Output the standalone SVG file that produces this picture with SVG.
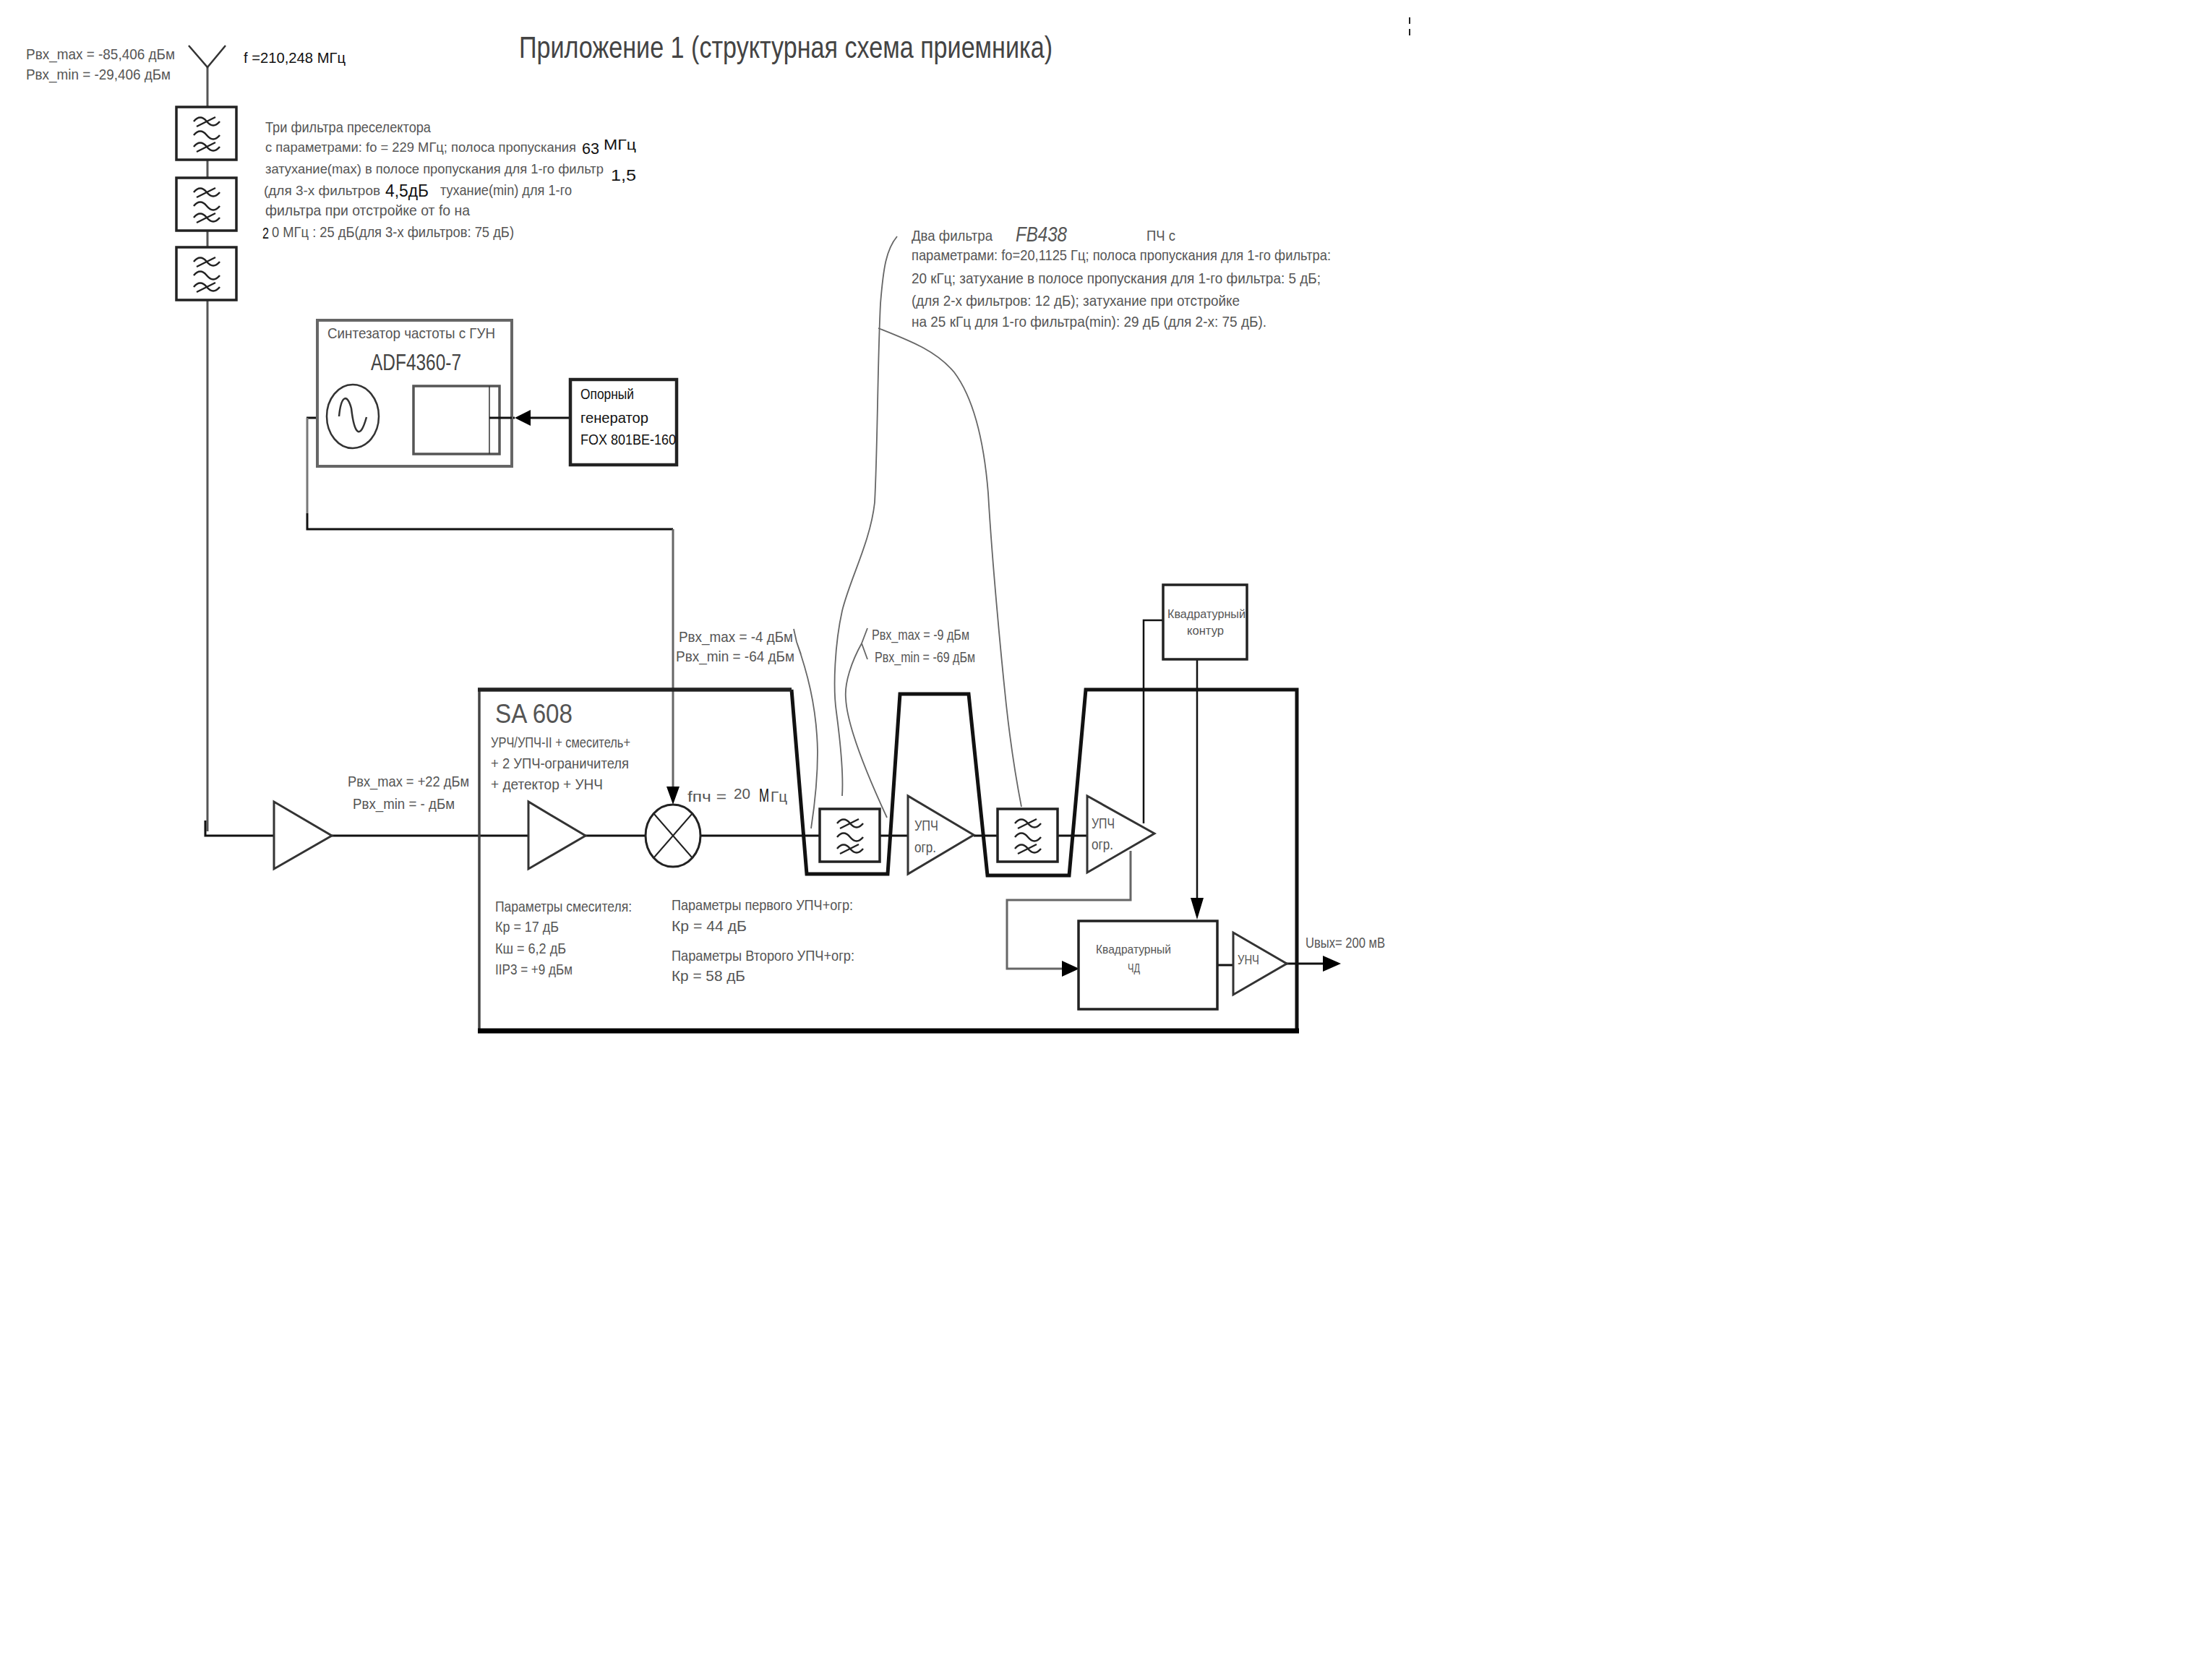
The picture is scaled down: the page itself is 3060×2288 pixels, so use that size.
<svg xmlns="http://www.w3.org/2000/svg" width="3060" height="2288" viewBox="0 0 3060 2288">
<style>
text{font-family:"Liberation Sans","DejaVu Sans",sans-serif;font-size:21px;fill:#555}
.d{fill:#111}
.n{font-size:18.5px}
.t{font-size:42px;fill:#444}
.b{font-size:32px;fill:#444}
.box{fill:#fff;stroke:#222;stroke-width:3.5}
.amp{fill:#fff;stroke:#333;stroke-width:3;stroke-linejoin:miter}
.w{fill:none;stroke:#222;stroke-width:2.5}
.l{fill:none;stroke:#111;stroke-width:3}
.g{fill:none;stroke:#666;stroke-width:1.8}
.ah{fill:#000;stroke:none}
</style>
<defs>
<g id="flt">
<rect class="box" x="0" y="0" width="83" height="73"/>
<path class="w" d="M24 20q9-11 18 0t18 0M28 27l26-13M24 39q9-11 18 0t18 0M24 55q9-11 18 0t18 0M28 62l26-13"/>
</g>
</defs>
<rect width="3060" height="2288" fill="#fff"/>
<rect x="1949" y="24" width="2" height="9" fill="#222"/>
<rect x="1949" y="40" width="2" height="9" fill="#222"/>
<g id="connectors">
<path class="l" style="stroke:#555" d="M287 93V1150"/>
<path class="l" d="M284 1135V1156H379"/>
<path class="l" d="M459 1156H731M810 1156H892M969 1156H1134M1217 1156H1256M1347 1156H1379M1463 1156H1504"/>
<path class="l" d="M424 578H452M525 578H572M677 578H712M734 578H787" />
<path class="l" style="stroke:#777" d="M425 578V710"/>
<path class="l" d="M425 710V732H931"/>
<path class="l" style="stroke:#666" d="M931 732V1090"/>
<path class="l" style="stroke-width:2.5" d="M1582 1139V858H1609M1656 912V1245"/>
<path class="l" style="stroke:#666" d="M1564 1177V1245H1393V1340H1470"/>
<path class="l" d="M1684 1335H1706M1780 1333H1832"/>
<path class="ah" d="M712 578L734 567V589ZM931 1113L922 1088H940ZM1656 1272L1647 1242H1665ZM1493 1340L1469 1329V1351ZM1855 1333L1830 1322V1344Z"/>
<path class="g" d="M1241 327C1226 345 1222 370 1218 420C1214 500 1214 620 1210 695C1204 750 1176 800 1165 845C1155 890 1152 950 1157 985C1163 1030 1167 1070 1165 1101"/>
<path class="g" d="M1215 454C1260 472 1295 485 1320 515C1350 555 1362 620 1367 682C1372 770 1384 900 1392 975C1398 1030 1406 1080 1413 1116"/>
<path class="g" d="M1200 869L1192 890L1200 912M1192 890C1178 915 1168 945 1170 966C1172 1010 1208 1090 1227 1131"/>
<path class="g" d="M1098 870L1102 888C1115 925 1130 975 1131 1040C1131 1080 1126 1120 1122 1146M1108 905L1102 888"/>
</g>
<g id="title"><text class="t" x="718" y="80" textLength="738" lengthAdjust="spacingAndGlyphs">Приложение 1 (структурная схема приемника)</text></g>
<g id="antenna">
<path class="l" style="stroke:#333;stroke-width:2.5" d="M261 63L287 93L312 63"/>
<text x="36" y="82" textLength="206" lengthAdjust="spacingAndGlyphs">Рвх_max = -85,406 дБм</text>
<text x="36" y="110" textLength="200" lengthAdjust="spacingAndGlyphs">Рвх_min = -29,406 дБм</text>
<text class="d" x="337" y="87" textLength="141" lengthAdjust="spacingAndGlyphs">f =210,248 МГц</text>
</g>
<g id="filter-a"><use href="#flt" x="244" y="148"/></g>
<g id="filter-b"><use href="#flt" x="244" y="246"/></g>
<g id="filter-c"><use href="#flt" x="244" y="342"/></g>
<g id="preselector-note">
<text x="367" y="183" textLength="229" lengthAdjust="spacingAndGlyphs">Три фильтра преселектора</text>
<text class="n" x="367" y="210" textLength="430" lengthAdjust="spacingAndGlyphs">с параметрами: fo = 229 МГц; полоса пропускания</text>
<text class="d" style="font-size:22px" x="805" y="213" textLength="24" lengthAdjust="spacingAndGlyphs">63</text>
<text class="d" style="font-size:21px" x="835" y="207" textLength="45" lengthAdjust="spacingAndGlyphs">МГц</text>
<text class="n" x="367" y="240" textLength="468" lengthAdjust="spacingAndGlyphs">затухание(max) в полосе пропускания для 1-го фильтр</text>
<text class="d" style="font-size:22px" x="845" y="250" textLength="35" lengthAdjust="spacingAndGlyphs">1,5</text>
<text class="n" x="365" y="270" textLength="161" lengthAdjust="spacingAndGlyphs">(для 3-х фильтров</text>
<text class="d" style="font-size:24px" x="533" y="272" textLength="60" lengthAdjust="spacingAndGlyphs">4,5дБ</text>
<text x="609" y="270" textLength="182" lengthAdjust="spacingAndGlyphs">тухание(min) для 1-го</text>
<text x="367" y="298" textLength="283" lengthAdjust="spacingAndGlyphs">фильтра при отстройке от fo на</text>
<text class="d" style="font-size:22px" x="363" y="330" textLength="9" lengthAdjust="spacingAndGlyphs">2</text>
<text x="376" y="328" textLength="335" lengthAdjust="spacingAndGlyphs">0 МГц : 25 дБ(для 3-х фильтров: 75 дБ)</text>
</g>
<g id="synth">
<rect class="box" style="stroke:#666;stroke-width:4" x="439" y="443" width="269" height="202"/>
<text x="453" y="468" textLength="232" lengthAdjust="spacingAndGlyphs">Синтезатор частоты с ГУН</text>
<text class="b" x="513" y="512" textLength="125" lengthAdjust="spacingAndGlyphs">ADF4360-7</text>
<ellipse cx="488" cy="576" rx="36" ry="44" fill="#fff" stroke="#333" stroke-width="2.5"/>
<path fill="none" stroke="#333" stroke-width="2.5" d="M469 576C472 545 481 545 486 565C490 600 498 610 507 577"/>
<rect class="box" style="stroke:#555;stroke-width:3.5" x="572" y="534" width="119" height="94"/>
<path fill="none" stroke="#333" stroke-width="1.5" d="M677 534V628"/>
<path class="l" d="M677 578H708"/>
</g>
<g id="reference">
<rect class="box" style="stroke-width:4.5" x="789" y="525" width="147" height="118"/>
<text class="d" x="803" y="552" textLength="74" lengthAdjust="spacingAndGlyphs">Опорный</text>
<text class="d" x="803" y="585" textLength="94" lengthAdjust="spacingAndGlyphs">генератор</text>
<text class="d" x="803" y="615" textLength="132" lengthAdjust="spacingAndGlyphs">FOX 801BE-160</text>
</g>
<g id="sa608">
<path fill="none" stroke="#111" stroke-width="5" d="M1095 954L1116 1209H1228L1245 960H1340L1366 1211H1479L1502 954H1794V1426"/>
<path fill="none" stroke="#444" stroke-width="3.5" d="M663 1426V954"/>
<path fill="none" stroke="#222" stroke-width="5.5" d="M661 954H1095"/>
<path fill="none" stroke="#000" stroke-width="7" d="M661 1426H1797"/>
<text style="font-size:36px" x="685" y="1000" textLength="107" lengthAdjust="spacingAndGlyphs">SA 608</text>
<text x="679" y="1034" textLength="193" lengthAdjust="spacingAndGlyphs">УРЧ/УПЧ-II + смеситель+</text>
<text x="679" y="1063" textLength="191" lengthAdjust="spacingAndGlyphs">+ 2 УПЧ-ограничителя</text>
<text x="679" y="1092" textLength="155" lengthAdjust="spacingAndGlyphs">+ детектор + УНЧ</text>
<text x="951" y="1109" textLength="54" lengthAdjust="spacingAndGlyphs">fпч =</text>
<text x="1015" y="1105" textLength="23" lengthAdjust="spacingAndGlyphs">20</text>
<text class="d" style="font-size:26px" x="1050" y="1109" textLength="14" lengthAdjust="spacingAndGlyphs">М</text>
<text x="1066" y="1109" textLength="23" lengthAdjust="spacingAndGlyphs">Гц</text>
<text x="685" y="1261" textLength="189" lengthAdjust="spacingAndGlyphs">Параметры смесителя:</text>
<text x="685" y="1289" textLength="88" lengthAdjust="spacingAndGlyphs">Кр = 17 дБ</text>
<text x="685" y="1319" textLength="98" lengthAdjust="spacingAndGlyphs">Кш = 6,2 дБ</text>
<text x="685" y="1348" textLength="107" lengthAdjust="spacingAndGlyphs">IIP3 = +9 дБм</text>
<text x="929" y="1259" textLength="251" lengthAdjust="spacingAndGlyphs">Параметры первого УПЧ+огр:</text>
<text x="929" y="1288" textLength="104" lengthAdjust="spacingAndGlyphs">Кр =  44 дБ</text>
<text x="929" y="1329" textLength="253" lengthAdjust="spacingAndGlyphs">Параметры Второго УПЧ+огр:</text>
<text x="929" y="1357" textLength="102" lengthAdjust="spacingAndGlyphs">Кр =  58 дБ</text>
</g>
<g id="amp-input"><path class="amp" d="M379 1109V1202L459 1156Z"/></g>
<g id="amp-sa"><path class="amp" d="M731 1109V1202L810 1156Z"/></g>
<g id="mixer">
<ellipse cx="931" cy="1156" rx="38" ry="43" fill="#fff" stroke="#222" stroke-width="3"/>
<path fill="none" stroke="#222" stroke-width="2" d="M904 1125L958 1187M958 1125L904 1187"/>
</g>
<g id="filter-d"><use href="#flt" x="1134" y="1119"/></g>
<g id="filter-e"><use href="#flt" x="1380" y="1119"/></g>
<g id="amp-if1">
<path class="amp" d="M1256 1101V1209L1347 1155Z"/>
<text x="1265" y="1149" textLength="33" lengthAdjust="spacingAndGlyphs">УПЧ</text>
<text x="1265" y="1179" textLength="30" lengthAdjust="spacingAndGlyphs">огр.</text>
</g>
<g id="amp-if2">
<path class="amp" d="M1504 1101V1207L1597 1153Z"/>
<text x="1510" y="1146" textLength="32" lengthAdjust="spacingAndGlyphs">УПЧ</text>
<text x="1510" y="1175" textLength="30" lengthAdjust="spacingAndGlyphs">огр.</text>
</g>
<g id="quad-contour">
<rect class="box" x="1609" y="809" width="116" height="103"/>
<text x="1615" y="855" style="font-size:17px" textLength="108" lengthAdjust="spacingAndGlyphs">Квадратурный</text>
<text x="1642" y="878" style="font-size:17px" textLength="51" lengthAdjust="spacingAndGlyphs">контур</text>
</g>
<g id="quad-detector">
<rect class="box" x="1492" y="1274" width="192" height="122"/>
<text x="1516" y="1319" style="font-size:17px" textLength="104" lengthAdjust="spacingAndGlyphs">Квадратурный</text>
<text x="1560" y="1345" style="font-size:17px" textLength="17" lengthAdjust="spacingAndGlyphs">ЧД</text>
</g>
<g id="amp-audio">
<path class="amp" d="M1706 1290V1376L1780 1333Z"/>
<text x="1712" y="1334" style="font-size:18px" textLength="30" lengthAdjust="spacingAndGlyphs">УНЧ</text>
</g>
<g id="labels">
<text x="481" y="1088" textLength="168" lengthAdjust="spacingAndGlyphs">Рвх_max = +22 дБм</text>
<text x="488" y="1119" textLength="141" lengthAdjust="spacingAndGlyphs">Рвх_min = - дБм</text>
<text x="939" y="888" textLength="158" lengthAdjust="spacingAndGlyphs">Рвх_max = -4 дБм</text>
<text x="935" y="915" textLength="164" lengthAdjust="spacingAndGlyphs">Рвх_min = -64 дБм</text>
<text x="1206" y="885" textLength="135" lengthAdjust="spacingAndGlyphs">Рвх_max = -9 дБм</text>
<text x="1210" y="916" textLength="139" lengthAdjust="spacingAndGlyphs">Рвх_min = -69 дБм</text>
<text x="1806" y="1311" textLength="110" lengthAdjust="spacingAndGlyphs">Uвых= 200 мВ</text>
</g>
<g id="if-filter-note">
<text x="1261" y="333" textLength="112" lengthAdjust="spacingAndGlyphs">Два фильтра</text>
<text style="font-size:30px;font-style:italic" x="1405" y="334" textLength="71" lengthAdjust="spacingAndGlyphs">FB438</text>
<text x="1586" y="333" textLength="40" lengthAdjust="spacingAndGlyphs">ПЧ с</text>
<text x="1261" y="360" textLength="580" lengthAdjust="spacingAndGlyphs">параметрами: fo=20,1125 Гц; полоса пропускания для 1-го фильтра:</text>
<text x="1261" y="392" textLength="566" lengthAdjust="spacingAndGlyphs">20 кГц; затухание в полосе пропускания для 1-го фильтра: 5 дБ;</text>
<text x="1261" y="423" textLength="454" lengthAdjust="spacingAndGlyphs">(для 2-х фильтров: 12 дБ); затухание при отстройке</text>
<text x="1261" y="452" textLength="491" lengthAdjust="spacingAndGlyphs">на 25 кГц для 1-го фильтра(min): 29 дБ (для 2-х: 75 дБ).</text>
</g>
</svg>
